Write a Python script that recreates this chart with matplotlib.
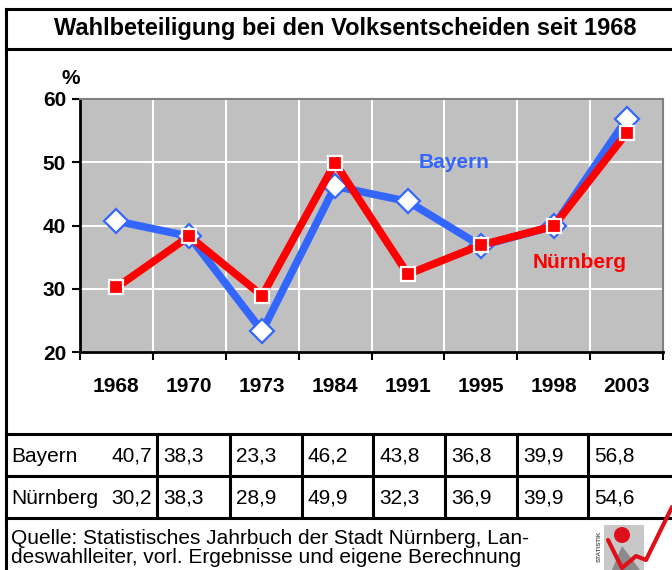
import matplotlib
matplotlib.use("Agg")
import matplotlib.pyplot as plt
from matplotlib.patches import Rectangle, Circle, Polygon

plt.rcParams["font.family"] = ["Liberation Sans", "DejaVu Sans"]

# Data
YEARS = ["1968", "1970", "1973", "1984", "1991", "1995", "1998", "2003"]
BAYERN = [40.7, 38.3, 23.3, 46.2, 43.8, 36.8, 39.9, 56.8]
NUERNBERG = [30.2, 38.3, 28.9, 49.9, 32.3, 36.9, 39.9, 54.6]
TITLE = "Wahlbeteiligung bei den Volksentscheiden seit 1968"
SOURCE = ("Quelle: Statistisches Jahrbuch der Stadt Nürnberg, Lan-\n"
          "deswahlleiter, vorl. Ergebnisse und eigene Berechnung")

BLUE = "#3366FF"
RED = "#FF0000"
W, H = 672, 570


def fx(px):
    return px / W


def fy(py):
    return 1 - py / H


fig = plt.figure(figsize=(W / 100, H / 100), dpi=100)

# overlay in pixel coordinates for frame, table and footer
ov = fig.add_axes([0, 0, 1, 1])
ov.set_xlim(0, W)
ov.set_ylim(H, 0)
ov.axis("off")

lw = 2.2
# outer frame
ov.plot([6, 6], [9, 575], color="black", lw=lw)
ov.plot([6, 680], [9, 9], color="black", lw=lw)
ov.plot([6, 680], [49, 49], color="black", lw=lw)
ov.text(345, 29, TITLE, ha="center", va="center", fontsize=17, fontweight="bold")

# table
row_y = [434, 476, 518]
for y in row_y:
    ov.plot([6, 680], [y, y], color="black", lw=lw)
col_x = [157, 230, 302, 373, 445, 517, 588]
for x in col_x:
    ov.plot([x, x], [row_y[0], row_y[2]], color="black", lw=lw)

fs_tab = 15
for r, (name, vals) in enumerate([("Bayern", BAYERN), ("Nürnberg", NUERNBERG)]):
    yc = (row_y[r] + row_y[r + 1]) / 2 + 1
    ov.text(11, yc, name, ha="left", va="center", fontsize=fs_tab)
    ov.text(152, yc, f"{vals[0]:.1f}".replace(".", ","), ha="right", va="center",
            fontsize=fs_tab)
    for i, v in enumerate(vals[1:]):
        ov.text(col_x[i] + 6, yc, f"{v:.1f}".replace(".", ","), ha="left", va="center",
                fontsize=fs_tab)

ov.text(11, 548, SOURCE, ha="left", va="center", fontsize=15, linespacing=1.02)

# small logo
ov.add_patch(Rectangle((604, 525), 40, 45, facecolor="#C8C8C8", edgecolor="none"))
ov.add_patch(Polygon([[612, 570], [622, 546], [640, 570]], closed=True,
                     facecolor="#8A8A8A", edgecolor="none"))
ov.add_patch(Circle((622, 535), 8, facecolor="#E0101A", edgecolor="none"))
ov.plot([608, 622, 636, 646, 672], [540, 568, 556, 560, 507], color="#E0101A", lw=3,
        solid_capstyle="round", solid_joinstyle="round")
ov.text(599, 546, "STATISTIK", rotation=90, ha="center", va="center", fontsize=4.5,
        color="#555555", fontweight="bold")

# chart
ax = fig.add_axes([fx(80), fy(352), fx(663) - fx(80), fy(99) - fy(352)])
ax.set_facecolor("#C0C0C0")
x = list(range(len(YEARS)))

ax.plot(x, BAYERN, color=BLUE, lw=5.5, marker="D", ms=12.5, mfc="white",
        mec=BLUE, mew=1.6, zorder=3)
ax.plot(x, NUERNBERG, color=RED, lw=5.5, marker="s", ms=9.5, mfc=RED,
        mec="white", mew=1.6, zorder=4)

ax.set_xlim(-0.5, len(YEARS) - 0.5)
ax.set_ylim(20, 60)
ax.set_yticks([20, 30, 40, 50, 60])
ax.set_xticks([i + 0.5 for i in range(-1, len(YEARS))], minor=False)
ax.set_xticklabels([""] * (len(YEARS) + 1))
ax.set_xticks(x, minor=True)
ax.set_xticklabels(YEARS, minor=True)
ax.tick_params(axis="x", which="minor", length=0, pad=18, labelsize=15)
ax.tick_params(axis="x", which="major", length=6, width=1.5, direction="out")
ax.tick_params(axis="y", length=6, width=1.5, direction="out", pad=4, labelsize=15)
for lab in ax.get_xticklabels(minor=True) + ax.get_yticklabels():
    lab.set_fontweight("bold")

ax.grid(True, which="major", color="white", lw=1.5)
ax.set_axisbelow(True)
for s in ["left", "bottom"]:
    ax.spines[s].set_linewidth(2)
    ax.spines[s].set_color("black")
for s in ["top", "right"]:
    ax.spines[s].set_linewidth(1.5)
    ax.spines[s].set_color("#808080")

ax.text(4.63, 50, "Bayern", color=BLUE, fontsize=15, fontweight="bold",
        ha="center", va="center")
ax.text(6.36, 34.2, "Nürnberg", color=RED, fontsize=15, fontweight="bold",
        ha="center", va="center")
ov.text(71, 79, "%", ha="center", va="center", fontsize=15, fontweight="bold")

fig.savefig("out.png", dpi=100)
